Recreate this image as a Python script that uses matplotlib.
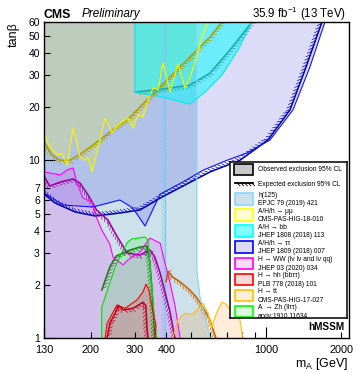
import matplotlib
matplotlib.use("Agg")
import matplotlib.pyplot as plt
import matplotlib.patheffects as pe
from matplotlib.patches import Rectangle
from matplotlib.colors import to_rgba

plt.rcParams['font.family'] = ['Liberation Sans', 'DejaVu Sans']
plt.rcParams['mathtext.fontset'] = 'custom'
plt.rcParams['mathtext.rm'] = 'Liberation Sans'
plt.rcParams['mathtext.it'] = 'Liberation Sans:italic'

# ---- contours: (m_A [GeV], tan beta) ----
h125_obs_m = [530, 530, 545, 573, 598]
h125_obs_tb = [60, 2.4, 1.7, 1.3, 1.0]
h125_exp_m = [395, 395]
h125_exp_tb = [1.0, 60]

tau_obs_m = [1719, 1497, 1281, 1037, 840, 698, 561, 466, 378, 329, 294, 261, 204, 155, 130]
tau_obs_tb = [60, 33.5, 19.2, 13.0, 11.0, 10.0, 8.8, 7.55, 6.45, 4.27, 5.39, 5.98, 5.46, 5.6, 6.55]
tau_exp_m = [1672, 1430, 1246, 1018, 787, 598, 475, 378, 314, 261, 208, 173, 144, 130]
tau_exp_tb = [60, 32.2, 19.2, 13.0, 10.0, 8.6, 7.26, 6.13, 5.25, 5.05, 4.86, 5.12, 5.75, 6.46]

mumu_obs_m = [130, 137, 147, 153, 161, 170, 181, 189, 195, 202,
              211, 228, 243, 252, 266, 281, 295, 308, 323, 335,
              354, 371, 388, 414, 445, 475, 497, 530, 555, 587]
mumu_obs_tb = [14.2, 11.9, 10.7, 10.9, 9.4, 15.2, 10.4, 10.0, 10.3, 8.6,
               11.0, 17.3, 14.2, 15.4, 16.4, 17.3, 15.2, 18.0, 17.5, 21.0,
               25.5, 24.9, 35.3, 24.2, 34.8, 25.5, 29.1, 38.1, 49.4, 60]
mumu_exp_m = [130, 140, 151, 165, 186, 217, 250, 287, 344, 414, 497, 598, 667]
mumu_exp_tb = [12.7, 10.7, 10.0, 10.0, 11.1, 13.0, 15.2, 17.5, 22.7, 29.4, 38.1, 49.4, 60]

bb_obs_m = [300, 300, 388, 497, 571, 667, 773, 879]
bb_obs_tb = [60, 24.2, 22.7, 20.7, 24.2, 30.2, 41.8, 60]
bb_exp_m = [300, 388, 497, 598, 718, 879]
bb_exp_tb = [24.2, 25.2, 26.5, 31.0, 41.8, 60]

ww_obs_m = [130, 151, 161, 170, 176, 186, 202, 211, 221, 238, 245,
            269, 281, 314, 344, 378, 395, 414, 433, 449, 454]
ww_obs_tb = [8.6, 8.27, 8.82, 9.05, 7.45, 6.13, 5.83, 4.74, 4.05, 3.38, 2.86,
             2.58, 2.75, 3.05, 3.65, 3.42, 2.64, 2.04, 1.53, 1.11, 1.0]
ww_exp_m = [130, 137, 151, 170, 181, 195, 211, 234, 254, 279, 314, 344, 360, 378, 395, 414, 433]
ww_exp_tb = [8.16, 7.17, 7.55, 7.85, 7.45, 6.38, 5.25, 4.61, 3.75, 3.01, 2.93, 3.13, 2.86, 2.32, 1.82, 1.40, 1.0]

hh_obs_m = [228, 232, 254, 274, 306, 323, 332, 341, 354, 364, 360]
hh_obs_tb = [1.0, 1.21, 1.53, 1.47, 1.64, 1.82, 2.01, 1.86, 1.40, 1.18, 1.0]
hh_exp_m = [232, 238, 250, 257, 269, 295, 323, 332, 335, 338]
hh_exp_tb = [1.0, 1.21, 1.38, 1.53, 1.44, 1.47, 1.59, 1.51, 1.15, 1.0]

zh_obs_m = [221, 221, 238, 250, 269, 281, 292, 329, 338, 344, 351, 360, 367]
zh_obs_tb = [1.0, 1.49, 2.04, 2.51, 3.13, 3.47, 3.61, 3.70, 3.56, 2.64, 1.86, 1.21, 1.0]
zh_exp_m = [221, 238, 252, 287, 314, 335, 344, 351, 357, 360]
zh_exp_tb = [1.86, 2.51, 2.89, 3.13, 3.25, 3.29, 2.68, 1.86, 1.26, 1.0]

tt_obs_m = [425, 445, 475, 511, 535, 560, 587, 608, 620, 643, 667, 692, 711, 752, 787, 809]
tt_obs_tb = [1.0, 1.26, 1.38, 1.36, 1.47, 1.57, 1.38, 1.14, 1.26, 1.44, 1.59, 1.55, 1.47, 1.53, 1.26, 1.0]
tt_exp_m = [399, 406, 425, 454, 497, 530, 560, 598, 631]
tt_exp_tb = [2.07, 2.38, 2.20, 2.07, 1.86, 1.68, 1.49, 1.26, 1.0]

legend_labels = ["h(125)", "A/H/h \u2192 \u03bc\u03bc", "A/H \u2192 bb", "A/H/h \u2192 \u03c4\u03c4",
                 "H \u2192 WW (l\u03bd l\u03bd and l\u03bd qq)", "H \u2192 hh (bb\u03c4\u03c4)",
                 "H \u2192 tt", "A  \u2192 Zh (ll\u03c4\u03c4)"]
legend_refs = ["EPJC 79 (2019) 421", "CMS-PAS-HIG-18-010", "JHEP 1808 (2018) 113",
               "JHEP 1809 (2018) 007", "JHEP 03 (2020) 034", "PLB 778 (2018) 101",
               "CMS-PAS-HIG-17-027", "arxiv:1910.11634"]
legend_edge = ['#88d8f8', '#ffff00', '#00ffff', '#0000ff', '#ff00ff', '#ff0000', '#ffc000', '#00ff00']
legend_fill = [('#9bc5d5', 0.5), ('#ffff00', 0.18), ('#00ffff', 0.5), ('#1616dd', 0.15),
               ('#ff00ff', 0.15), ('#ff0000', 0.15), ('#ff8000', 0.15), ('#00ff00', 0.15)]

fig = plt.figure(figsize=(3.57, 3.73), dpi=100)
ax = fig.add_axes([44 / 357, 1 - 338 / 373, 305 / 357, 316 / 373])
ax.set_xscale('log')
ax.set_yscale('log')
ax.set_xlim(130, 2144)
ax.set_ylim(1, 60)

# filled observed exclusions
ax.fill([130] + h125_obs_m + [130], [60] + h125_obs_tb + [1.0], color=legend_fill[0][0], alpha=legend_fill[0][1], lw=0)
ax.fill(tau_obs_m + [130], tau_obs_tb + [60], color=legend_fill[3][0], alpha=legend_fill[3][1], lw=0)
ax.fill(mumu_obs_m + [130], mumu_obs_tb + [60], color=legend_fill[1][0], alpha=legend_fill[1][1], lw=0)
ax.fill(bb_obs_m, bb_obs_tb, color=legend_fill[2][0], alpha=legend_fill[2][1], lw=0)
ax.fill(ww_obs_m + [130], ww_obs_tb + [1.0], color=legend_fill[4][0], alpha=legend_fill[4][1], lw=0)
ax.fill(zh_obs_m, zh_obs_tb, color=legend_fill[7][0], alpha=legend_fill[7][1], lw=0)
ax.fill(hh_obs_m, hh_obs_tb, color=legend_fill[5][0], alpha=legend_fill[5][1], lw=0)
ax.fill(tt_obs_m, tt_obs_tb, color=legend_fill[6][0], alpha=legend_fill[6][1], lw=0)


def expected(m, tb, col, ang, lw=1.1):
    # expected limit: line with hatching on one side
    ax.plot(m, tb, color=col, lw=lw,
            path_effects=[pe.withTickedStroke(spacing=2.6, angle=ang, length=1.3, linewidth=0.5)])


expected(h125_exp_m, h125_exp_tb, '#7cc8f0', 45, lw=0.9)
expected(mumu_exp_m, mumu_exp_tb, '#a8a000', -45)
expected(bb_exp_m, bb_exp_tb, '#20a8a8', -45)
expected(tau_exp_m, tau_exp_tb, '#0000b0', -45)
expected(ww_exp_m, ww_exp_tb, '#a000a0', -45)
expected(zh_exp_m, zh_exp_tb, '#108010', -45)
expected(hh_exp_m, hh_exp_tb, '#c00020', -45)
expected(tt_exp_m, tt_exp_tb, '#c86400', -45)

# observed boundaries
ax.plot(h125_obs_m, h125_obs_tb, color='#88d8f8', lw=0.9)
ax.plot(tau_obs_m, tau_obs_tb, color='#1010ff', lw=0.8)
ax.plot(mumu_obs_m, mumu_obs_tb, color='#f4f400', lw=0.9)
ax.plot(bb_obs_m, bb_obs_tb, color='#00e8f0', lw=0.8)
ax.plot(ww_obs_m, ww_obs_tb, color='#ff00ff', lw=0.8)
ax.plot(zh_obs_m, zh_obs_tb, color='#00e000', lw=0.8)
ax.plot(hh_obs_m, hh_obs_tb, color='#ff0000', lw=0.8)
ax.plot(tt_obs_m, tt_obs_tb, color='#ffc000', lw=0.8)

# ticks
ax.set_xticks([130, 1000], labels=['130', '1000'])
ax.set_xticks([200, 300, 400, 500, 600, 700, 800, 900, 2000],
              labels=['200', '300', '400', '', '', '', '', '', '2000'], minor=True)
ax.set_yticks([1, 10], labels=['1', '10'])
ax.set_yticks([2, 3, 4, 5, 6, 7, 20, 30, 40, 50, 60],
              labels=['2', '3', '4', '5', '6', '7', '20', '30', '40', '50', '60'], minor=True)
ax.tick_params(which='both', direction='in', top=False, right=False, width=0.8)
ax.tick_params(which='major', length=8)
ax.tick_params(which='minor', length=4)
ax.tick_params(axis='x', which='both', labelsize=7.8, pad=5)
ax.tick_params(axis='y', which='both', labelsize=7.5, pad=3)
for s in ax.spines.values():
    s.set_linewidth(1.0)

fig.text(43 / 357, 1 - 17.5 / 373, "CMS", fontsize=8.8, fontweight='bold', va='baseline')
fig.text(82 / 357, 1 - 17.5 / 373, "Preliminary", fontsize=8.5, style='italic', va='baseline')
fig.text(346 / 357, 1 - 18 / 373, "35.9 fb$^{-1}$ (13 TeV)", fontsize=8.3, ha='right', va='baseline')
fig.text(348 / 357, 1 - 367 / 373, "m$_\\mathrm{A}$ [GeV]", fontsize=9, ha='right', va='baseline')
fig.text(14 / 357, 1 - 22 / 373, "tan\u03b2", fontsize=9, rotation=90, ha='center', va='top')
ax.text(0.985, 0.035, "hMSSM", transform=ax.transAxes, fontsize=7.2, fontweight='bold', ha='right', va='center')

# legend box drawn by hand
lax = fig.add_axes([230 / 357, 1 - 318 / 373, 117 / 357, 156 / 373])
lax.set_xlim(230, 347)
lax.set_ylim(318, 162)
lax.set_xticks([])
lax.set_yticks([])
for s in lax.spines.values():
    s.set_linewidth(1.1)
lax.add_patch(Rectangle((234, 164), 19, 10.5, facecolor='#c8c8c8', edgecolor='black', lw=1.2))
lax.text(258, 169.5, "Observed exclusion 95% CL", fontsize=4.8, va='center')
lax.plot([235, 253], [182.5, 182.5], color='black', lw=1.3,
         path_effects=[pe.withTickedStroke(spacing=2.4, angle=-45, length=1.4, linewidth=0.6)])
lax.text(258, 184, "Expected exclusion 95% CL", fontsize=4.8, va='center')
for i in range(len(legend_labels)):
    top = 193.3 + i * 16.05
    lax.add_patch(Rectangle((235, top), 18, 11.5, facecolor=to_rgba(*legend_fill[i]),
                            edgecolor=legend_edge[i], lw=1.2))
    lax.text(258, top + 2.2, legend_labels[i], fontsize=4.8, va='center')
    lax.text(258, top + 10.5, legend_refs[i], fontsize=4.8, va='center')

fig.savefig('out.png', dpi=100)
